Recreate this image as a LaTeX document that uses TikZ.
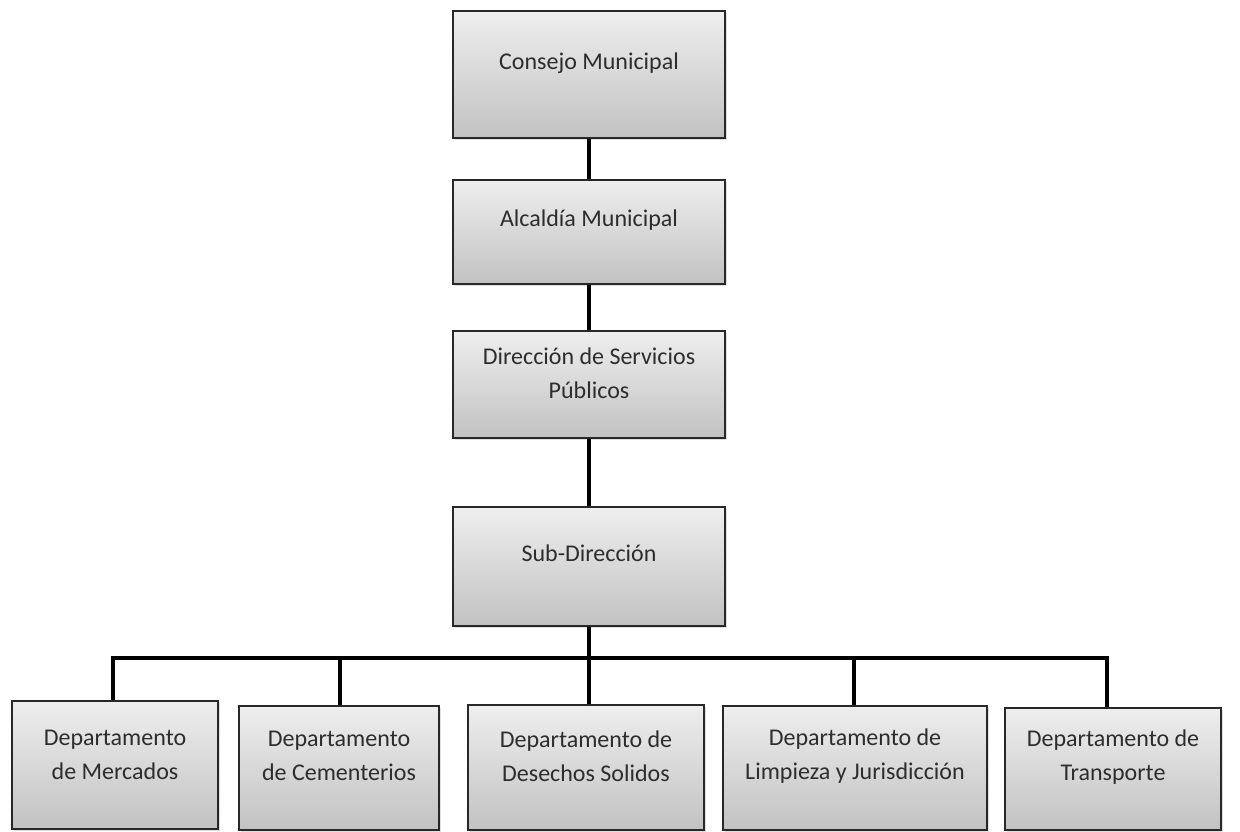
\documentclass[tikz,border=0pt]{standalone}
\usepackage{fontspec}
\setmainfont{Carlito}
\usetikzlibrary{shadows}
\definecolor{boxtop}{RGB}{238,238,238}
\definecolor{boxbot}{RGB}{194,194,194}
\definecolor{boxline}{RGB}{40,40,40}
\definecolor{txtc}{RGB}{45,45,45}
\tikzset{
  orgbox/.style={draw=boxline, line width=1.3pt, top color=boxtop, bottom color=boxbot,
     rectangle, inner sep=0pt,
     drop shadow={opacity=0.25, shadow xshift=2pt, shadow yshift=-2pt}},
  orgtxt/.style={text=txtc, font=\fontsize{24}{34}\selectfont, align=center, inner sep=0pt},
  conn/.style={line width=3.6pt, black}
}
\begin{document}
\begin{tikzpicture}[x=1pt,y=-1pt]
\useasboundingbox (0,0) rectangle (1240,831);
% top column
\node[orgbox, minimum width=272pt, minimum height=127pt] (consejo) at (589,74.5) {};
\node[orgbox, minimum width=272pt, minimum height=104pt] (alcaldia) at (589,232) {};
\node[orgbox, minimum width=272pt, minimum height=107pt] (direccion) at (589,384.5) {};
\node[orgbox, minimum width=272pt, minimum height=119pt] (sub) at (589,566.5) {};
% bottom row
\node[orgbox, minimum width=206pt, minimum height=128pt] (merc) at (115,765) {};
\node[orgbox, minimum width=200pt, minimum height=124pt] (cem) at (339,768) {};
\node[orgbox, minimum width=236pt, minimum height=125pt] (des) at (586,767.5) {};
\node[orgbox, minimum width=264pt, minimum height=124pt] (lim) at (855,768) {};
\node[orgbox, minimum width=216pt, minimum height=122pt] (tra) at (1113,769) {};
% texts
\node[orgtxt] (tconsejo) at ([yshift=11.5pt]consejo.center) {Consejo Municipal};
\node[orgtxt] (talcaldia) at ([yshift=12pt]alcaldia.center) {Alcaldía Municipal};
\node[orgtxt] (tdireccion) at ([yshift=11pt]direccion.center) {Dirección de Servicios\\Públicos};
\node[orgtxt] (tsub) at ([yshift=13.5pt]sub.center) {Sub-Dirección};
\node[orgtxt] (tmerc) at ([yshift=10pt]merc.center) {Departamento\\de Mercados};
\node[orgtxt] (tcem) at ([yshift=12pt]cem.center) {Departamento\\de Cementerios};
\node[orgtxt] (tdes) at ([yshift=11pt]des.center) {Departamento de\\Desechos Solidos};
\node[orgtxt] (tlim) at ([yshift=12pt]lim.center) {Departamento de\\Limpieza y Jurisdicción};
\node[orgtxt] (ttra) at ([yshift=12pt]tra.center) {Departamento de\\Transporte};
% connectors
\coordinate (busL) at (113,658);
\coordinate (busR) at (1107,658);
\draw[conn] (consejo.south) -- (alcaldia.north);
\draw[conn] (alcaldia.south) -- (direccion.north);
\draw[conn] (direccion.south) -- (sub.north);
\draw[conn] (sub.south) -- (sub.south |- busL);
\draw[conn, line join=miter] ([xshift=-2pt]merc.north) -- (busL) -- (busR) -- ([xshift=-6pt]tra.north);
\draw[conn] ([xshift=1pt]cem.north) -- ([xshift=1pt]cem.north |- busL);
\draw[conn] ([xshift=3pt]des.north) -- ([xshift=3pt]des.north |- busL);
\draw[conn] ([xshift=-1pt]lim.north) -- ([xshift=-1pt]lim.north |- busL);
\end{tikzpicture}
\end{document}
